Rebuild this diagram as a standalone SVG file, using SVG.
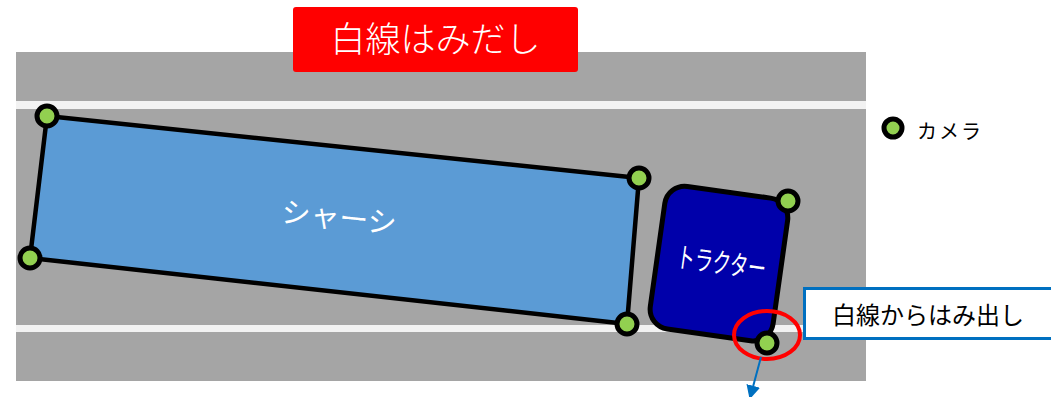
<svg xmlns="http://www.w3.org/2000/svg" width="1051" height="397" viewBox="0 0 1051 397">
<defs>
<style>
.jp{font-family:"Noto Sans CJK JP","Noto Sans",sans-serif;}
.cam{fill:#92D050;stroke:#000;stroke-width:5;}
.wl{fill:#F2F2F2;}
</style>
<marker id="arr" viewBox="0 0 10 10" refX="9" refY="5" markerWidth="7" markerHeight="7" orient="auto" markerUnits="strokeWidth">
<path d="M0,0 L10,5 L0,10 z" fill="#0070C0"/>
</marker>
</defs>
<rect width="1051" height="397" fill="#fff"/>
<g id="road">
<rect x="16" y="52" width="850" height="329" fill="#A5A5A5"/>
<rect class="wl" x="16" y="101" width="850" height="8"/>
<rect class="wl" x="16" y="325" width="850" height="7"/>
</g>
<g id="title">
<rect x="293" y="7" width="285" height="65" rx="3" fill="#FF0000"/>
<text class="jp" x="435.5" y="52" font-size="35" font-weight="300" fill="#fff" text-anchor="middle">白線はみだし</text>
</g>
<g id="chassis">
<polygon points="47,116 639,178 627,324 30,258" fill="#5B9BD5" stroke="#000" stroke-width="4.5" stroke-linejoin="round"/>
<text class="jp" x="0" y="0" font-size="29" fill="#fff" text-anchor="middle" transform="translate(338,228) rotate(6)">シャーシ</text>
</g>
<g id="tractor">
<rect x="-58" y="-72" width="124" height="144" rx="20" fill="#0000AA" stroke="#000" stroke-width="5" transform="translate(715,263) rotate(8)"/>
<text class="jp" x="0" y="0" font-size="28" fill="#fff" text-anchor="middle" textLength="90" lengthAdjust="spacingAndGlyphs" transform="translate(720,273) rotate(8)">トラクター</text>
</g>
<g id="cameras">
<circle class="cam" cx="47" cy="116" r="10"/>
<circle class="cam" cx="639" cy="178" r="10"/>
<circle class="cam" cx="627" cy="324" r="10"/>
<circle class="cam" cx="30" cy="258" r="10"/>
<circle class="cam" cx="788" cy="201" r="10"/>
<circle class="cam" cx="767" cy="343" r="10"/>
</g>
<g id="highlight">
<ellipse cx="767" cy="335" rx="33" ry="24" fill="none" stroke="#FF0000" stroke-width="4"/>
</g>
<g id="connectors">
<line x1="761" y1="357" x2="750" y2="398" stroke="#0070C0" stroke-width="2" marker-end="url(#arr)"/>
</g>
<g id="callout">
<rect x="804.5" y="288.5" width="260" height="50" fill="#fff" stroke="#0070C0" stroke-width="3"/>
<text class="jp" x="832" y="324" font-size="24" fill="#000">白線からはみ出し</text>
</g>
<g id="legend">
<circle class="cam" cx="893" cy="128" r="9"/>
<text class="jp" x="917" y="139" font-size="20" fill="#000" letter-spacing="2">カメラ</text>
</g>
</svg>
